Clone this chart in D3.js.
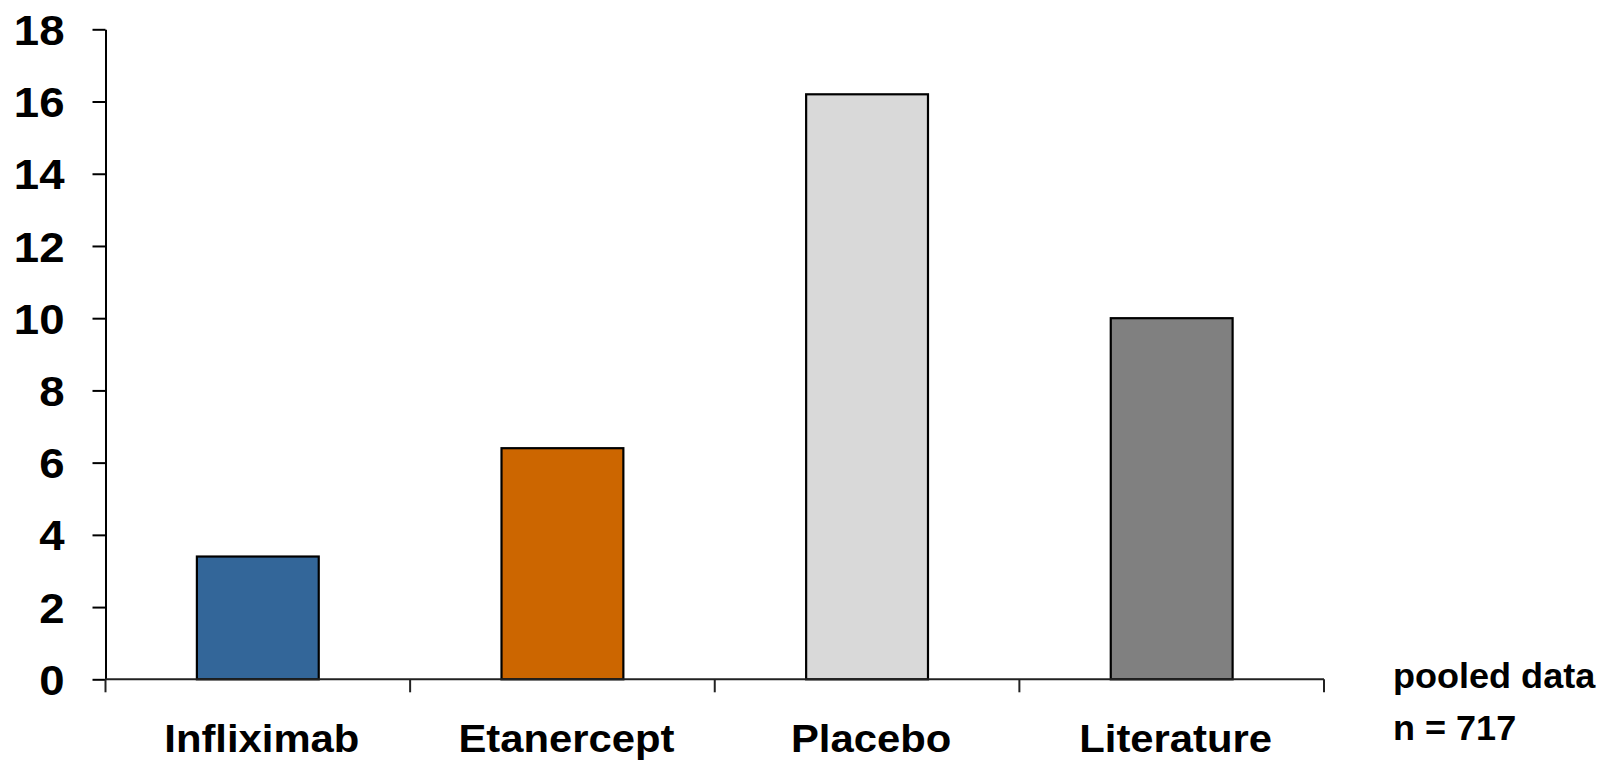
<!DOCTYPE html>
<html><head><meta charset="utf-8">
<script src="https://cdn.jsdelivr.net/npm/d3@7/dist/d3.min.js"></script>
<style>
html,body{margin:0;padding:0;background:#fff;}
svg{display:block;}
text{font-family:"Liberation Sans",Arial,sans-serif;font-weight:bold;fill:#000;}
</style></head>
<body>
<script>
const categories = ["Infliximab", "Etanercept", "Placebo", "Literature"];
const values = [3.4, 6.4, 16.2, 10.0];
const colors = ["#336699", "#CC6600", "#D9D9D9", "#808080"];
const yTicks = [0, 2, 4, 6, 8, 10, 12, 14, 16, 18];
const noteLines = ["pooled data", "n = 717"];

const W = 1609, H = 763;
const svg = d3.select("body").append("svg").attr("width", W).attr("height", H);

const x0 = 105.5, x1 = 1324, yBot = 679.3, yTop = 29.3;
const x = d3.scaleBand().domain(categories).range([x0, x1]).paddingInner(0.6).paddingOuter(0.3);
const y = d3.scaleLinear().domain([0, 18]).range([yBot, yTop]);

// bars
svg.append("g").selectAll("rect").data(categories).join("rect")
  .attr("x", d => x(d))
  .attr("y", (d, i) => y(values[i]))
  .attr("width", x.bandwidth())
  .attr("height", (d, i) => y(0) - y(values[i]))
  .attr("fill", (d, i) => colors[i])
  .attr("stroke", "#000")
  .attr("stroke-width", 2.2);

// y axis
const yAxis = svg.append("g").attr("transform", `translate(${x0},0)`)
  .call(d3.axisLeft(y).tickValues(yTicks).tickSize(13).tickSizeOuter(0).tickPadding(28));
yAxis.select(".domain").attr("stroke", "#000").attr("stroke-width", 2);
yAxis.selectAll(".tick line").attr("stroke", "#000").attr("stroke-width", 2);
yAxis.selectAll(".tick text")
  .attr("font-size", 43).attr("font-family", null).attr("dy", "0.35em")
  .each(function() {
    const t = d3.select(this);
    const xx = +t.attr("x");
    t.attr("x", 0).attr("transform", `translate(${xx},0) scale(1.06,1)`);
  });

// x axis baseline and boundary ticks
const gx = svg.append("g");
gx.append("line").attr("x1", x0).attr("x2", x1).attr("y1", y(0)).attr("y2", y(0))
  .attr("stroke", "#222").attr("stroke-width", 2);
const bounds = d3.range(categories.length + 1).map(i => x0 + i * x.step());
gx.selectAll("line.b").data(bounds).join("line").attr("class", "b")
  .attr("x1", d => d).attr("x2", d => d)
  .attr("y1", y(0)).attr("y2", y(0) + 13)
  .attr("stroke", "#222").attr("stroke-width", 2);

// category labels
svg.append("g").selectAll("text").data(categories).join("text")
  .attr("transform", d => `translate(${x(d) + x.bandwidth() / 2 + 4},752) scale(1.1,1)`)
  .attr("text-anchor", "middle")
  .attr("font-size", 38)
  .text(d => d);

// note
svg.append("g").selectAll("text").data(noteLines).join("text")
  .attr("transform", (d, i) => `translate(1393,${688 + i * 52}) scale(1.03,1)`)
  .attr("font-size", 35)
  .text(d => d);
</script>
</body></html>
